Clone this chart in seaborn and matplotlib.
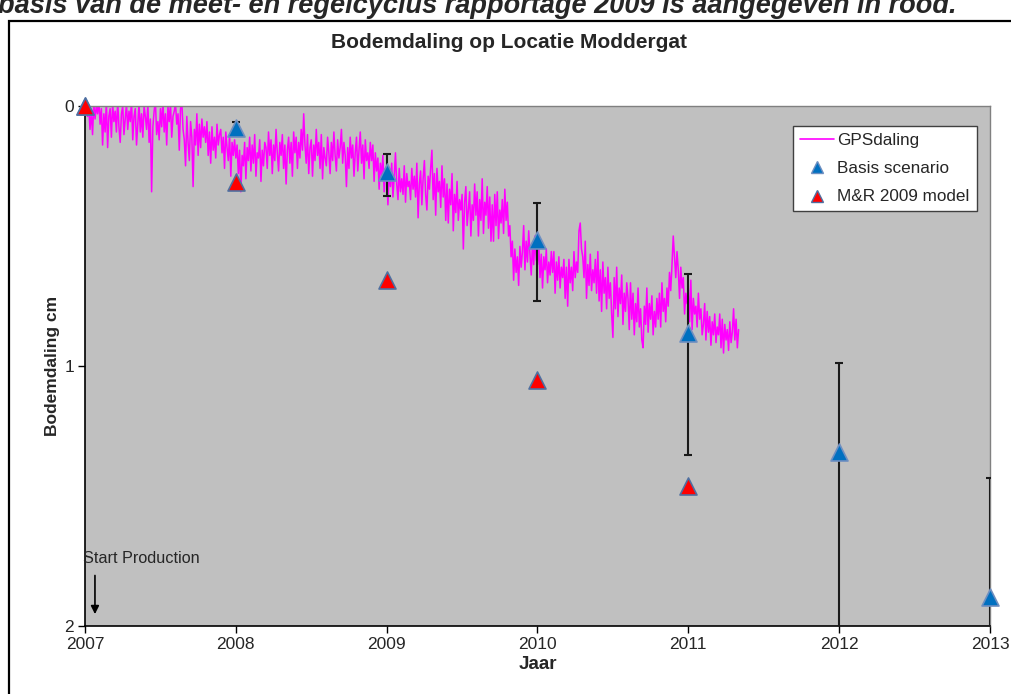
import numpy as np
import pandas as pd
import matplotlib
matplotlib.use("Agg")
import matplotlib.pyplot as plt
from matplotlib.lines import Line2D
from matplotlib.patches import Rectangle
import seaborn as sns

# ---------------- data ----------------
years = [2007, 2008, 2009, 2010, 2011, 2012, 2013]
basis = [0.0, 0.085, 0.254, 0.515, 0.873, 1.33, 1.89]
basis_top = [0.0, 0.06, 0.185, 0.373, 0.645, 0.99, 1.43]
basis_bottom = [0.0, 0.11, 0.345, 0.749, 1.342, 2.05, 2.4]
mr_years = [2007, 2008, 2009, 2010, 2011]
mr2009 = [0.0, 0.292, 0.67, 1.054, 1.46]

# GPS subsidence readings (cm), sampled every 1/120 year from 2007.0
gps_values = [
    0.00, -0.02, 0.04, 0.01, 0.09, 0.02, 0.11, -0.01, 0.05, 0.00, 0.03, -0.02,
    0.07, 0.01, 0.15, 0.03, 0.10, -0.02, 0.16, 0.04, 0.01, 0.12, -0.01, 0.06,
    0.02, 0.10, -0.02, 0.08, 0.14, 0.03, 0.00, 0.11, 0.05, -0.01, 0.09, 0.02,
    0.06, -0.02, 0.13, 0.04, 0.01, 0.15, 0.07, -0.01, 0.10, 0.03, 0.12, 0.00,
    0.04, 0.09, -0.01, 0.14, 0.05, 0.33, 0.08, 0.02, -0.02, 0.11, 0.06, 0.13,
    0.01, 0.08, -0.02, 0.10, 0.03, 0.15, 0.00, 0.06, -0.01, 0.12, 0.04, 0.02,
    -0.01, 0.07, 0.03, 0.17, 0.01, -0.02, 0.09, 0.13, 0.23, 0.04, 0.14, 0.21,
    0.06, 0.12, 0.31, 0.09, 0.15, 0.03, 0.19, 0.07, 0.16, 0.05, 0.12, 0.08,
    0.14, 0.06, 0.19, 0.10, 0.22, 0.08, 0.17, 0.12, 0.20, 0.07, 0.15, 0.11,
    0.09, 0.18, 0.12, 0.24, 0.10, 0.16, 0.21, 0.11, 0.27, 0.14, 0.19, 0.13,
    0.20, 0.15, 0.26, 0.17, 0.33, 0.19, 0.23, 0.14, 0.28, 0.16, 0.21, 0.12,
    0.25, 0.15, 0.22, 0.11, 0.27, 0.18, 0.20, 0.13, 0.29, 0.17, 0.23, 0.14,
    0.16, 0.24, 0.10, 0.19, 0.13, 0.26, 0.15, 0.21, 0.09, 0.18, 0.25, 0.14,
    0.19, 0.11, 0.24, 0.15, 0.30, 0.17, 0.12, 0.22, 0.14, 0.27, 0.10, 0.18,
    0.12, 0.24, 0.14, 0.20, 0.09, 0.17, 0.03, 0.15, 0.22, 0.11, 0.26, 0.16,
    0.13, 0.27, 0.15, 0.21, 0.09, 0.19, 0.14, 0.24, 0.11, 0.28, 0.16, 0.20,
    0.23, 0.12, 0.18, 0.26, 0.14, 0.21, 0.10, 0.19, 0.25, 0.13, 0.20, 0.16,
    0.09, 0.22, 0.14, 0.19, 0.31, 0.16, 0.24, 0.12, 0.20, 0.15, 0.27, 0.18,
    0.12, 0.25, 0.17, 0.10, 0.22, 0.15, 0.28, 0.13, 0.21, 0.18, 0.24, 0.14,
    0.21, 0.15, 0.29, 0.18, 0.25, 0.20, 0.32, 0.22, 0.27, 0.19, 0.33, 0.24,
    0.26, 0.38, 0.25, 0.31, 0.22, 0.35, 0.27, 0.18, 0.30, 0.36, 0.24, 0.33,
    0.28, 0.34, 0.23, 0.37, 0.26, 0.31, 0.29, 0.36, 0.24, 0.32, 0.27, 0.35,
    0.22, 0.43, 0.30, 0.25, 0.38, 0.28, 0.21, 0.34, 0.40, 0.27, 0.32, 0.24,
    0.17, 0.36, 0.26, 0.42, 0.24, 0.33, 0.29, 0.39, 0.23, 0.35, 0.28, 0.44,
    0.30, 0.45, 0.32, 0.38, 0.26, 0.48, 0.34, 0.41, 0.29, 0.44, 0.36, 0.40,
    0.34, 0.55, 0.37, 0.31, 0.46, 0.40, 0.33, 0.50, 0.38, 0.44, 0.30, 0.42,
    0.33, 0.50, 0.36, 0.44, 0.28, 0.49, 0.37, 0.42, 0.31, 0.47, 0.35, 0.52,
    0.38, 0.52, 0.34, 0.46, 0.33, 0.51, 0.40, 0.45, 0.36, 0.49, 0.32, 0.44,
    0.37, 0.50, 0.46, 0.58, 0.52, 0.67, 0.55, 0.64, 0.58, 0.69, 0.54, 0.62,
    0.56, 0.46, 0.63, 0.52, 0.60, 0.48, 0.57, 0.65, 0.53, 0.61, 0.50, 0.59,
    0.61, 0.53, 0.66, 0.57, 0.70, 0.58, 0.63, 0.55, 0.68, 0.60, 0.65, 0.56,
    0.64, 0.56, 0.72, 0.60, 0.67, 0.58, 0.70, 0.62, 0.66, 0.59, 0.74, 0.62,
    0.77, 0.59, 0.68, 0.62, 0.71, 0.56, 0.66, 0.60, 0.64, 0.48, 0.45, 0.55,
    0.58, 0.66, 0.52, 0.74, 0.61, 0.69, 0.57, 0.71, 0.63, 0.68, 0.59, 0.72,
    0.56, 0.75, 0.63, 0.79, 0.60, 0.72, 0.66, 0.78, 0.62, 0.74, 0.68, 0.80,
    0.89, 0.66, 0.78, 0.62, 0.81, 0.70, 0.76, 0.65, 0.84, 0.72, 0.79, 0.68,
    0.74, 0.86, 0.68, 0.82, 0.72, 0.88, 0.76, 0.83, 0.70, 0.85, 0.78, 0.90,
    0.93, 0.77, 0.84, 0.70, 0.87, 0.76, 0.82, 0.73, 0.88, 0.79, 0.85, 0.74,
    0.82, 0.72, 0.85, 0.68, 0.79, 0.74, 0.83, 0.70, 0.77, 0.64, 0.71, 0.61,
    0.50, 0.58, 0.66, 0.56, 0.63, 0.74, 0.62, 0.70, 0.66, 0.80, 0.72, 0.76,
    0.70, 0.83, 0.67, 0.86, 0.74, 0.80, 0.77, 0.85, 0.72, 0.82, 0.78, 0.88,
    0.84, 0.76, 0.90, 0.79, 0.87, 0.81, 0.92, 0.83, 0.88, 0.80, 0.91, 0.85,
    0.88, 0.80, 0.93, 0.82, 0.95, 0.84, 0.90, 0.86, 0.94, 0.83, 0.91, 0.87,
    0.78, 0.90, 0.82, 0.93, 0.86,
]
gps_start = 2007.0
gps_step = 1.0 / 120.0

xticks = [2007, 2008, 2009, 2010, 2011, 2012, 2013]
yticks = [0, 1, 2]

title = "Bodemdaling op Locatie Moddergat"
xlabel = "Jaar"
ylabel = "Bodemdaling cm"
header = "basis van de meet- en regelcyclus rapportage 2009 is aangegeven in rood."
annot = "Start Production"

# ---------------- style ----------------
sns.set_style("white")
plt.rcParams["font.family"] = ["Liberation Sans", "DejaVu Sans"]

W, H = 1011, 694
fig = plt.figure(figsize=(W / 100, H / 100), dpi=100)
ax = fig.add_axes([85 / W, 1 - 626 / H, (990 - 85) / W, (626 - 106) / H])
ax.set_facecolor("#C0C0C0")

gps_df = pd.DataFrame({
    "t": gps_start + np.arange(len(gps_values)) * gps_step,
    "v": gps_values,
})
basis_df = pd.DataFrame({"t": years, "v": basis})
mr_df = pd.DataFrame({"t": mr_years, "v": mr2009})

sns.lineplot(data=gps_df, x="t", y="v", ax=ax, color="#FF00FF", lw=1.1,
             sort=False, zorder=2)

# error bars for basis scenario
lower = np.array(basis) - np.array(basis_top)
upper = np.array(basis_bottom) - np.array(basis)
ax.errorbar(years, basis, yerr=[lower, upper], fmt="none", ecolor="#1a1a1a",
            elinewidth=1.5, capsize=2.6, capthick=1.5, zorder=3, clip_on=True)

sns.scatterplot(data=basis_df, x="t", y="v", ax=ax, marker="^", s=150,
                color="#0070C0", edgecolor="#6F8FC0", linewidth=1.2,
                zorder=5, clip_on=False)
sns.scatterplot(data=mr_df, x="t", y="v", ax=ax, marker="^", s=150,
                color="#FF0000", edgecolor="#4F6FA0", linewidth=1.2,
                zorder=6, clip_on=False)

ax.set_xlim(2007, 2013)
ax.set_ylim(2, 0)
ax.set_xticks(xticks)
ax.set_xticklabels([str(y) for y in xticks], fontsize=12.5)
ax.set_yticks(yticks)
ax.set_yticklabels([str(y) for y in yticks], fontsize=12.5)
ax.tick_params(axis="both", direction="out", length=5, width=1, color="black",
               pad=3, bottom=True, left=True)
ax.set_xlabel(xlabel, fontsize=13.5, fontweight="bold", labelpad=3)
ax.set_ylabel(ylabel, fontsize=12.5, fontweight="bold", labelpad=3)

for side in ["left", "bottom"]:
    ax.spines[side].set_color("black")
    ax.spines[side].set_linewidth(1.2)
for side in ["top", "right"]:
    ax.spines[side].set_color("#808080")
    ax.spines[side].set_linewidth(1.0)

# annotation
ax.text(2006.985, 1.74, annot, fontsize=11.7, ha="left", va="center")
ax.annotate("", xy=(2007.066, 1.965), xytext=(2007.066, 1.795),
            arrowprops=dict(arrowstyle="-|>", color="black", lw=1.2,
                            mutation_scale=12))

# legend
handles = [
    Line2D([], [], color="#FF00FF", lw=1.2),
    Line2D([], [], marker="^", ls="none", markersize=9,
           markerfacecolor="#0070C0", markeredgecolor="#6F8FC0"),
    Line2D([], [], marker="^", ls="none", markersize=9,
           markerfacecolor="#FF0000", markeredgecolor="#4F6FA0"),
]
labels = ["GPSdaling", "Basis scenario", "M&R 2009 model"]
leg = ax.legend(handles, labels, loc="upper left",
                bbox_to_anchor=((793 - 85) / 905, 1 - (126 - 106) / 520),
                fontsize=12.3, frameon=True, fancybox=False, framealpha=1,
                edgecolor="#404040", handlelength=2.0, handletextpad=0.2,
                borderpad=0.4, labelspacing=0.78, borderaxespad=0)
leg.get_frame().set_linewidth(1.0)

# title and header
fig.text(509 / W, 1 - 42 / H, title, fontsize=15, fontweight="bold",
         ha="center", va="center")
fig.text(-2 / W, 1 - 13 / H, header, fontsize=19.5, fontweight="bold",
         fontstyle="italic", ha="left", va="baseline")

# outer chart frame
fig.patches.append(Rectangle((9 / W, -0.05), 1.1, 1 - 21 / H + 0.05,
                             transform=fig.transFigure, fill=False,
                             edgecolor="black", lw=1.6))

fig.savefig("out.png", dpi=100)
